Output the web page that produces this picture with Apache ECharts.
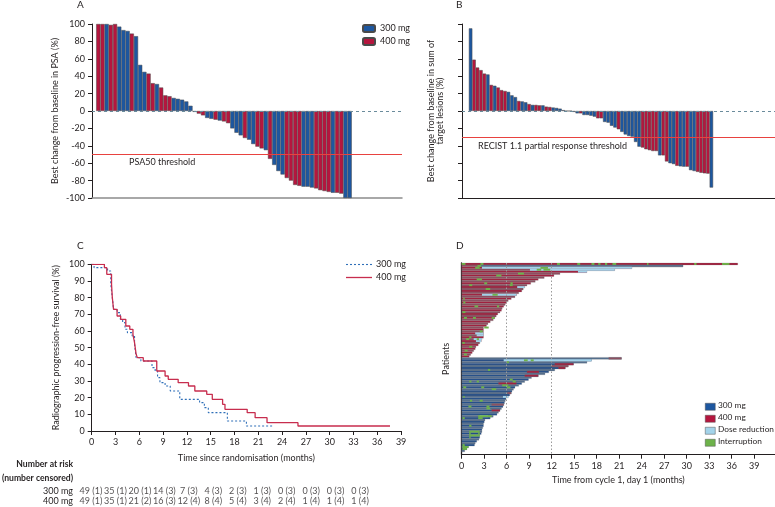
<!DOCTYPE html>
<html><head><meta charset="utf-8">
<script src="https://cdn.jsdelivr.net/npm/echarts@6/dist/echarts.min.js"></script>
<style>html,body{margin:0;padding:0;background:#fff}#c{width:775px;height:507px}</style>
</head><body><div id="c"></div>
<script>
// ---------- Panel A: best PSA change (waterfall) ----------
const psaValues = [100,100,100,99,100,97,93,92,89,86,53,45,43,32,31,27,18,17,15,14,13,11,6,
  -1,-3,-5,-8,-9,-10,-11,-12,-14,-20,-25,-28,-31,-33,-38,-41,-43,-45,-55,-62,-69,-73,-77,-80,-85,
  -86,-87,-87,-88,-89,-91,-92,-93,-94,-94,-95,-100,-100];
const psaDose = [400,400,300,400,400,300,300,300,400,300,300,300,400,400,300,400,400,400,300,300,300,300,300,
  300,400,400,300,300,400,300,400,400,300,300,300,400,300,300,400,400,300,400,300,300,300,400,400,400,400,
  300,300,300,400,400,400,400,300,400,400,300,300];
// ---------- Panel B: best change in target lesions ----------
const recistValues = [95,59,50,47,43,42,30,29,27,24,23,22,18,16,11.5,11,10,8,7,7,6.5,6.5,5,4.6,4,3.5,2.7,1,
  0,0,-1,
  -2.7,-2.7,-4.6,-4.6,-5.4,-6.5,-8.4,-8.4,-12.6,-13.4,-17,-19,-21,-24,-27,-28.7,-29.5,-35.6,-41,-42,
  -44,-45,-46,-46,-51,-51,-58,-60,-61,-63,-63.6,-64,-64,-68,-69,-70,-71,-71.6,-72,-88];
const recistDose = [300,400,400,400,400,300,400,300,400,400,400,300,300,300,400,300,300,400,300,400,400,300,400,400,300,300,300,300,
  300,300,300,
  300,400,300,300,300,300,400,400,300,300,300,300,400,300,300,300,300,300,300,400,
  400,400,400,400,300,400,400,300,300,400,300,300,400,300,300,400,400,400,400,300];
const psaThreshold = -50;
const recistThreshold = -30;
// ---------- Panel C: Kaplan-Meier rPFS ----------
const km300Time = [0,0.3,2.0,2.4,2.6,2.75,3.2,3.6,3.9,4.2,4.5,5.1,5.4,5.6,6.2,7.6,8.0,8.3,8.6,9.25,9.9,11.1,13.6,14.2,14.7,17.1,19.5,22.9];
const km300Surv = [100,98,96,88,80,73,71,67,65,61,59,57,52,44,42,38,36,32,29,27,24,19,17,14,11,6,3,3];
const km400Time = [0,1.6,1.9,2.5,2.6,2.75,3.2,3.65,4.3,4.8,5.2,5.4,5.6,5.75,6.5,8.2,9.25,9.65,10.9,12.2,13.0,14.5,15.2,16.5,16.8,19.6,20.6,22.1,26.0,37.6];
const km400Surv = [100,98,94,88,80,73,69,67,63,61,58,53,46,44,42,36,33,31,29,27,24,22,19,16,13,11,8,5,3,3];
const monthTicks = [0,3,6,9,12,15,18,21,24,27,30,33,36,39];
const riskTimes = [0,3,6,9,12,15,18,21,24,27,30,33];
const atRisk300 = [49,35,20,14,7,4,2,1,0,0,0,0];
const censored300 = [1,1,1,3,3,3,3,3,3,3,3,3];
const atRisk400 = [49,35,21,16,12,8,5,3,2,1,1,1];
const censored400 = [1,1,2,3,4,4,4,4,4,4,4,4];
// ---------- Panel D: swimmer plot (months) ----------
const swimEnd400 = [36.8,29.5,22.7,20.4,16.7,13.1,12.3,11.0,10.2,9.8,9.2,8.7,8.4,8.2,8.0,7.6,7.3,7.1,6.6,6.2,
  6.0,5.8,5.6,5.4,5.3,5.1,4.8,4.6,4.4,4.2,3.8,3.5,3.3,2.9,2.9,2.9,2.9,2.9,2.9,2.7,2.6,2.4,2.2,1.9,1.8,1.6,1.4,1.2,1.0];
const swimEnd300 = [21.3,17.3,16.7,14.9,14.2,13.8,12.4,11.6,11.1,10.2,9.3,8.9,8.4,8.0,7.6,7.1,6.9,6.7,6.6,6.4,
  6.2,5.9,5.8,5.7,5.6,5.5,5.3,5.1,4.9,4.7,4.2,3.8,3.1,3.0,2.9,2.9,2.8,2.7,2.7,2.6,2.4,2.4,2.3,2.0,1.8,1.7,0.9,0.7,0.4];
// [group, row, start, end, dose]
const doseSegs = [['a',1,2.5,29.5,300],['b',0,19.6,21.3,400],['b',3,12.4,14.9,400],['b',4,12.0,14.2,400],
  ['b',5,12.9,13.8,400],['b',7,8.7,10.3,400],['b',9,8.4,10.2,400],['b',13,4.9,7.3,400],['b',18,6.1,6.6,400],
  ['b',24,4.0,5.6,400],['b',27,4.0,5.1,400]];
// [group, row, start, end]
const reductionSegs = [['a',2,2.7,22.7],['a',3,9.1,20.4],['a',4,15.5,16.7],['a',12,7.4,8.4],['a',16,2.7,7.3],
  ['a',36,1.8,2.9],['a',37,2.0,2.9],['a',39,1.6,2.7],['a',40,1.9,2.6],
  ['b',1,5.6,17.3],['b',20,5.5,6.2],['b',30,2.4,3.5]];
const interruptionSegs = [['a',0,0,0.5],['a',0,2.5,2.9],['a',0,12.7,13.1],['a',0,15.4,15.8],['a',0,17.3,17.7],
  ['a',0,18.2,18.5],['a',0,19.1,19.4],['a',0,20.1,20.6],['a',0,24.7,24.9],['a',0,31.0,31.3],['a',0,34.7,35.7],
  ['a',1,2.1,2.6],['a',2,1.8,2.4],['a',2,10.5,11.5],['a',3,10.0,10.6],['a',3,10.9,11.8],['a',5,7.5,8.3],
  ['a',6,4.6,5.3],['a',8,2.0,2.7],['a',10,3.0,3.4],['a',10,6.5,6.8],['a',11,1.0,1.4],['a',11,6.4,6.8],
  ['a',13,3.2,3.8],['a',16,4.1,4.8],['a',18,0.2,0.4],['a',20,0.2,0.5],['a',22,1.7,2.2],['a',22,4.7,5.0],
  ['a',25,0.1,0.5],['a',28,0.3,0.7],['a',28,1.5,1.9],['a',28,4.0,4.4],['a',33,3.0,3.6],['a',35,2.4,2.8],
  ['a',38,1.0,1.3],['a',39,0.6,1.0],['a',39,2.0,2.3],['a',41,0.1,0.4],['a',43,1.0,1.4],['a',45,0.4,0.8],['a',47,0.3,0.7],
  ['b',1,8.3,8.8],['b',1,9.2,9.6],['b',2,6.0,6.3],['b',6,3.5,3.8],['b',11,6.4,6.8],['b',12,1.0,1.3],['b',12,2.0,2.3],
  ['b',12,6.8,7.2],['b',14,5.4,6.2],['b',15,0.2,0.6],['b',15,2.6,3.0],['b',15,6.0,6.5],['b',16,4.0,4.6],['b',20,0.2,0.4],
  ['b',22,1.1,1.4],['b',22,2.4,2.8],['b',25,0.9,1.3],['b',25,3.3,3.7],['b',26,3.3,3.8],['b',30,2.2,4.0],['b',31,0.1,0.4],
  ['b',31,2.2,2.8],['b',35,1.0,1.3],['b',38,1.0,2.4],['b',39,1.0,1.2],['b',39,2.2,2.4],['b',40,1.0,2.4],['b',41,1.0,1.2],
  ['b',45,0.1,0.4],['b',46,0.1,0.9],['b',47,0.1,0.7]];
const refMonths = [6,12];

// ---------- styling ----------
const FONT = 'Lato, "Noto Sans", sans-serif';
const TXT = '#231f20';
const BLUE = '#1d57a0', RED = '#b5163e', LIGHT = '#a3d3ea', GREEN = '#6db24a';
const KM_BLUE = '#2f6fb8', KM_RED = '#c72d4e';
// [dark row, greyish row] shades for the swimmer bars
const ROW_SHADES = [['#24508c', '#56708f'], ['#a2213f', '#8d5062']];

function padBars(vals, dose, want, padL, padR) {
  const out = [];
  for (let i = 0; i < padL; i++) out.push('-');
  vals.forEach((v, i) => out.push(dose[i] === want ? v : '-'));
  for (let i = 0; i < padR; i++) out.push('-');
  return out;
}
const padA = [1, 12], padB = [2, 18];
const catsA = Array.from({length: psaValues.length + padA[0] + padA[1]}, (_, i) => i);
const catsB = Array.from({length: recistValues.length + padB[0] + padB[1]}, (_, i) => i);

const rowOf = (g, r) => (g === 'a' ? r : swimEnd400.length + r) + 0.5;
const swimData = [];
swimEnd400.forEach((e, i) => swimData.push([0, e, rowOf('a', i), 1]));
swimEnd300.forEach((e, i) => swimData.push([0, e, rowOf('b', i), 0]));
doseSegs.forEach(s => swimData.push([s[2], s[3], rowOf(s[0], s[1]), s[4] === 300 ? 0 : 1]));
reductionSegs.forEach(s => swimData.push([s[2], s[3], rowOf(s[0], s[1]), 2]));
interruptionSegs.forEach(s => swimData.push([s[2], s[3], rowOf(s[0], s[1]), 3]));

const axisTxt = {fontSize: 9, color: TXT, fontFamily: FONT};
const riskData = [];
riskTimes.forEach((t, i) => {
  riskData.push([t, '300 mg', atRisk300[i] + ' (' + censored300[i] + ')']);
  riskData.push([t, '400 mg', atRisk400[i] + ' (' + censored400[i] + ')']);
});

const chart = echarts.init(document.getElementById('c'), null, {renderer: 'canvas'});
const barBorder = {borderColor: '#4a4a4a', borderWidth: 0.5};
const txt = (x, y, s, extra) => ({type: 'text', left: x, top: y,
  style: Object.assign({text: s, fontSize: 9, fill: TXT, fontFamily: FONT}, extra || {})});
const option = {
  animation: false,
  textStyle: {fontFamily: FONT},
  grid: [
    {left: 92, top: 24, width: 310, height: 174},
    {left: 462, top: 24, width: 313, height: 174},
    {left: 91.7, top: 264.3, width: 309.4, height: 166.7},
    {left: 91, top: 485.5, width: 318, height: 20.6},
    {left: 461.7, top: 263, width: 313.3, height: 191.7}
  ],
  xAxis: [
    {gridIndex: 0, type: 'category', data: catsA, axisLine: {onZero: false, lineStyle: {color: '#8c8c8c', width: 1.5}}, axisTick: {show: false}, axisLabel: {show: false}},
    {gridIndex: 1, type: 'category', data: catsB, axisLine: {onZero: false, lineStyle: {color: TXT, width: 1.2}}, axisTick: {show: false}, axisLabel: {show: false}},
    {gridIndex: 2, type: 'value', min: 0, max: 39, interval: 3, splitLine: {show: false},
      axisLine: {onZero: false, lineStyle: {color: TXT}}, axisTick: {length: 4, lineStyle: {color: TXT}},
      axisLabel: Object.assign({margin: 7}, axisTxt),
      name: 'Time since randomisation (months)', nameLocation: 'middle', nameGap: 23, nameTextStyle: axisTxt},
    {gridIndex: 3, type: 'value', min: 0, max: 39, show: false},
    {gridIndex: 4, type: 'value', min: 0, max: 41.77, interval: 3, splitLine: {show: false},
      axisLine: {onZero: false, lineStyle: {color: TXT, width: 1.2}},
      axisTick: {length: 4, lineStyle: {color: TXT}, customValues: monthTicks},
      axisLabel: Object.assign({margin: 7, customValues: monthTicks}, axisTxt),
      name: 'Time from cycle 1, day 1 (months)', nameLocation: 'middle', nameGap: 21, nameTextStyle: axisTxt}
  ],
  yAxis: [
    {gridIndex: 0, type: 'value', min: -100, max: 100, interval: 20, splitLine: {show: false},
      axisLine: {show: true, onZero: false, lineStyle: {color: TXT}}, axisTick: {show: true, length: 4, lineStyle: {color: TXT}},
      axisLabel: Object.assign({margin: 7}, axisTxt),
      name: 'Best change from baseline in PSA (%)', nameLocation: 'middle', nameGap: 32, nameTextStyle: axisTxt},
    {gridIndex: 1, type: 'value', min: -100, max: 100, interval: 20, splitLine: {show: false},
      axisLine: {show: true, onZero: false, lineStyle: {color: TXT}}, axisTick: {show: true, length: 4, lineStyle: {color: TXT}},
      axisLabel: {show: false},
      name: 'Best change from baseline in sum of\ntarget lesions (%)', nameLocation: 'middle', nameGap: 17,
      nameTextStyle: Object.assign({lineHeight: 9}, axisTxt)},
    {gridIndex: 2, type: 'value', min: 0, max: 100, interval: 10, splitLine: {show: false},
      axisLine: {show: true, onZero: false, lineStyle: {color: TXT}}, axisTick: {show: true, length: 4, lineStyle: {color: TXT}},
      axisLabel: Object.assign({margin: 7}, axisTxt),
      name: 'Radiographic progression-free survival (%)', nameLocation: 'middle', nameGap: 31, nameTextStyle: axisTxt},
    {gridIndex: 3, type: 'category', data: ['300 mg', '400 mg'], inverse: true,
      axisLine: {show: false}, axisTick: {show: false}, axisLabel: Object.assign({margin: 18, interval: 0}, axisTxt)},
    {gridIndex: 4, type: 'value', min: 0, max: 99.5, inverse: true, splitLine: {show: false},
      axisLine: {show: true, onZero: false, lineStyle: {color: TXT, width: 1.3}}, axisTick: {show: false}, axisLabel: {show: false},
      name: 'Patients', nameLocation: 'middle', nameGap: 11, nameTextStyle: axisTxt}
  ],
  legend: [
    {data: ['300 mg', '400 mg'], left: 357, top: 19, orient: 'vertical', itemWidth: 12, itemHeight: 7, itemGap: 4,
      textStyle: axisTxt, selectedMode: false}
  ],
  series: [
    {type: 'bar', name: '300 mg', xAxisIndex: 0, yAxisIndex: 0, data: padBars(psaValues, psaDose, 300, padA[0], padA[1]),
      barGap: '-100%', barCategoryGap: '0%', itemStyle: Object.assign({color: BLUE}, barBorder),
      markLine: {silent: true, symbol: 'none', label: {show: false},
        data: [{yAxis: 0, lineStyle: {color: '#6b8c9c', type: [3, 3], width: 1}},
               {yAxis: psaThreshold, lineStyle: {color: '#e8423f', type: 'solid', width: 1.2}}]}},
    {type: 'bar', name: '400 mg', xAxisIndex: 0, yAxisIndex: 0, data: padBars(psaValues, psaDose, 400, padA[0], padA[1]),
      barGap: '-100%', barCategoryGap: '0%', itemStyle: Object.assign({color: RED}, barBorder)},
    {type: 'bar', name: '300 mg', xAxisIndex: 1, yAxisIndex: 1, data: padBars(recistValues, recistDose, 300, padB[0], padB[1]),
      barGap: '-100%', barCategoryGap: '0%', itemStyle: Object.assign({color: BLUE}, barBorder),
      markLine: {silent: true, symbol: 'none', label: {show: false},
        data: [{yAxis: 0, lineStyle: {color: '#6b8c9c', type: [3, 3], width: 1}},
               {yAxis: recistThreshold, lineStyle: {color: '#e8423f', type: 'solid', width: 1.2}}]}},
    {type: 'bar', name: '400 mg', xAxisIndex: 1, yAxisIndex: 1, data: padBars(recistValues, recistDose, 400, padB[0], padB[1]),
      barGap: '-100%', barCategoryGap: '0%', itemStyle: Object.assign({color: RED}, barBorder)},
    {type: 'line', name: 'km300', xAxisIndex: 2, yAxisIndex: 2, step: 'end', symbol: 'none',
      data: km300Time.map((t, i) => [t, km300Surv[i]]),
      lineStyle: {color: KM_BLUE, width: 1.1, type: [2, 2]}, itemStyle: {color: KM_BLUE}},
    {type: 'line', name: 'km400', xAxisIndex: 2, yAxisIndex: 2, step: 'end', symbol: 'none',
      data: km400Time.map((t, i) => [t, km400Surv[i]]),
      lineStyle: {color: KM_RED, width: 1.3}, itemStyle: {color: KM_RED}},
    {type: 'scatter', xAxisIndex: 3, yAxisIndex: 3, symbolSize: 1, itemStyle: {color: 'transparent'},
      data: riskData, label: {show: true, position: 'inside', formatter: p => p.data[2], fontSize: 9, color: TXT, fontFamily: FONT}},
    {type: 'line', xAxisIndex: 4, yAxisIndex: 4, data: [], z: 1,
      markLine: {silent: true, symbol: 'none', label: {show: false},
        lineStyle: {color: '#9a9a9a', type: [1.5, 2], width: 1},
        data: refMonths.map(m => ({xAxis: m}))}},
    {type: 'custom', xAxisIndex: 4, yAxisIndex: 4, z: 3, data: swimData, encode: {x: [0, 1], y: 2},
      renderItem: (params, api) => {
        const s = api.value(0), e = api.value(1), r = api.value(2), t = api.value(3);
        const p0 = api.coord([s, r]), p1 = api.coord([e, r]);
        const h = api.size([0, 1])[1];
        const fill = t < 2 ? ROW_SHADES[t][Math.floor(r) % 2] : (t === 2 ? LIGHT : GREEN);
        return {type: 'rect', shape: {x: p0[0], y: p0[1] - h / 2, width: p1[0] - p0[0], height: h},
          style: {fill: fill, stroke: t < 2 ? 'rgba(110,110,110,0.6)' : null, lineWidth: 0.35}};
      }}
  ],
  graphic: [
    txt(77, 0, 'A', {fontSize: 10}), txt(456, 0, 'B', {fontSize: 10}),
    txt(77, 241, 'C', {fontSize: 10}), txt(456, 241, 'D', {fontSize: 10}),
    txt(129, 158, 'PSA50 threshold'),
    txt(478, 142, 'RECIST 1.1 partial response threshold'),
    {type: 'text', right: 702, top: 460, style: {text: 'Number at risk', fontSize: 8.6, fontWeight: 'bold', fill: TXT, fontFamily: FONT}},
    {type: 'text', right: 702, top: 474, style: {text: '(number censored)', fontSize: 8.6, fontWeight: 'bold', fill: TXT, fontFamily: FONT}},
    // panel C legend
    {type: 'line', shape: {x1: 346, y1: 264.5, x2: 372, y2: 264.5}, style: {stroke: KM_BLUE, lineWidth: 1.1, lineDash: [2, 2]}},
    {type: 'line', shape: {x1: 346, y1: 277.5, x2: 372, y2: 277.5}, style: {stroke: KM_RED, lineWidth: 1.3}},
    txt(376, 259.5, '300 mg'), txt(376, 272.5, '400 mg'),
    // panel D legend
    {type: 'rect', left: 705, top: 403, shape: {width: 10, height: 7}, style: {fill: BLUE, stroke: '#555', lineWidth: 0.5}},
    {type: 'rect', left: 705, top: 415, shape: {width: 10, height: 7}, style: {fill: RED, stroke: '#555', lineWidth: 0.5}},
    {type: 'rect', left: 705, top: 427, shape: {width: 10, height: 7}, style: {fill: LIGHT, stroke: '#555', lineWidth: 0.5}},
    {type: 'rect', left: 705, top: 439, shape: {width: 10, height: 7}, style: {fill: GREEN, stroke: '#555', lineWidth: 0.5}},
    txt(718, 401.5, '300 mg', {fontSize: 8.3}), txt(718, 413.5, '400 mg', {fontSize: 8.3}),
    txt(718, 425.5, 'Dose reduction', {fontSize: 8.3}), txt(718, 437.5, 'Interruption', {fontSize: 8.3})
  ]
};
chart.setOption(option);
</script>
</body></html>
